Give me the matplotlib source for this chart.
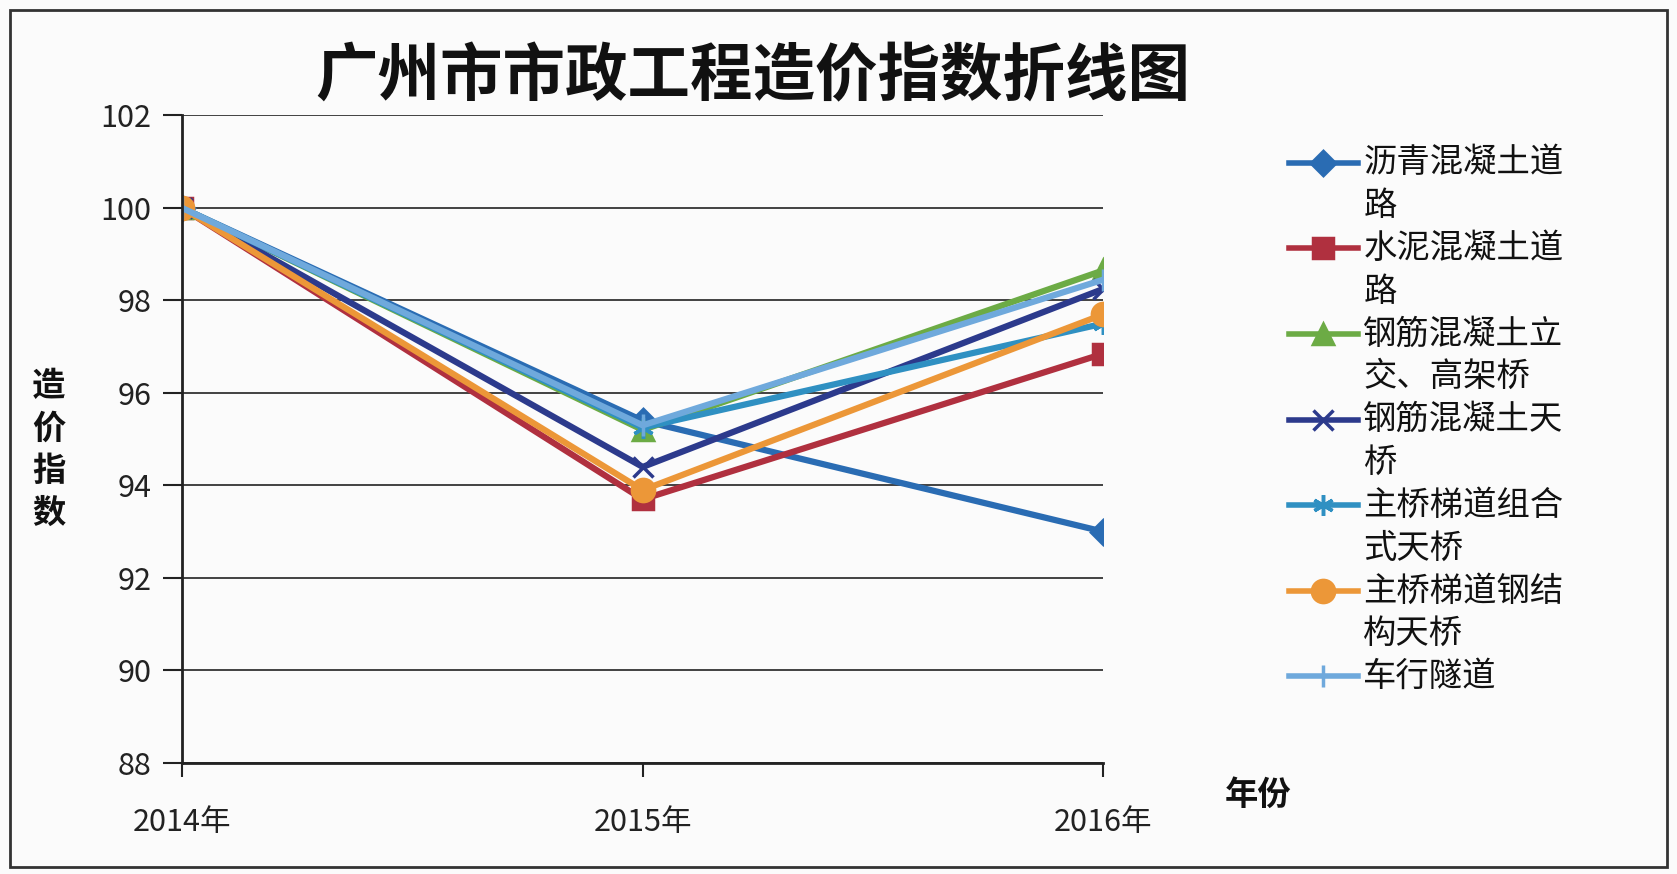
import numpy as np
import matplotlib
matplotlib.use('Agg')
import matplotlib.pyplot as plt
from matplotlib.patches import Rectangle
from matplotlib.lines import Line2D

plt.rcParams['font.family'] = ['Noto Sans CJK SC', 'DejaVu Sans']

years = ['2014年', '2015年', '2016年']
series_names = ['沥青混凝土道\n路', '水泥混凝土道\n路', '钢筋混凝土立\n交、高架桥',
                '钢筋混凝土天\n桥', '主桥梯道组合\n式天桥', '主桥梯道钢结\n构天桥', '车行隧道']
asphalt_road = [100, 95.4, 93.0]
cement_road = [100, 93.7, 96.85]
rc_interchange = [100, 95.2, 98.65]
rc_footbridge = [100, 94.4, 98.25]
combined_footbridge = [100, 95.25, 97.5]
steel_footbridge = [100, 93.9, 97.7]
tunnel = [100, 95.3, 98.45]

all_series = [asphalt_road, cement_road, rc_interchange, rc_footbridge,
              combined_footbridge, steel_footbridge, tunnel]
colors = ['#2a6cb3', '#b0303f', '#6cab45', '#2c3a8c', '#2f90c2', '#ec9738', '#6fa9dc']
markers = ['D', 's', '^', 'x', (6, 2, 0), 'o', '|']
msizes = [12, 14, 15, 15, 15, 16, 16]

fig = plt.figure(figsize=(16.77, 8.74), dpi=100)
fig.patch.set_facecolor('#fbfbfb')
ax = fig.add_axes([0.1085, 0.127, 0.5495, 0.741])
ax.set_facecolor('#fbfbfb')

x = np.arange(len(years))
for vals, name, c, m, ms in zip(all_series, series_names, colors, markers, msizes):
    ax.plot(x, vals, color=c, lw=4.5, marker=m, ms=ms, mew=2.5,
            mfc=c, mec=c, label=name, solid_joinstyle='round')

ax.set_xlim(0, 2)
ax.set_ylim(88, 102)
ax.set_yticks(np.arange(88, 103, 2))
ax.set_xticks(x)
ax.set_xticklabels(years)
ax.yaxis.grid(True, color='#333333', lw=1.3)
ax.set_axisbelow(True)
for side in ['top', 'right']:
    ax.spines[side].set_visible(False)
for side in ['left', 'bottom']:
    ax.spines[side].set_color('#222222')
    ax.spines[side].set_linewidth(2)
ax.tick_params(axis='y', length=14, width=1.5, labelsize=22, pad=8, colors='#222222')
ax.tick_params(axis='x', length=10, width=1.5, labelsize=22, pad=22, colors='#222222')

fig.text(0.449, 0.912, '广州市市政工程造价指数折线图', fontsize=45, fontweight='bold',
         ha='center', va='center', color='#111111')
fig.text(0.029, 0.485, '造\n价\n指\n数', fontsize=24, fontweight='bold',
         ha='center', va='center', linespacing=1.35, color='#111111')
fig.text(0.75, 0.09, '年份', fontsize=24, fontweight='bold',
         ha='center', va='center', color='#111111')

# legend drawn by hand so the key sits on the first text line, like Excel does
y_row = 0.814
pitch = 0.049
for name, c, m, ms in zip(series_names, colors, markers, msizes):
    fig.add_artist(Line2D([0.7686, 0.810], [y_row, y_row], transform=fig.transFigure,
                          color=c, lw=4))
    fig.add_artist(Line2D([0.789], [y_row], transform=fig.transFigure, color=c,
                          marker=m, ms=ms, mew=2.5, mfc=c, mec=c, lw=0))
    for line in name.split('\n'):
        fig.text(0.813, y_row, line, fontsize=24, ha='left', va='center', color='#111111')
        y_row -= pitch

fig.patches.append(Rectangle((0.006, 0.008), 0.988, 0.98, transform=fig.transFigure,
                             fill=False, edgecolor='#333333', lw=2))

fig.savefig('out.png', dpi=100)
